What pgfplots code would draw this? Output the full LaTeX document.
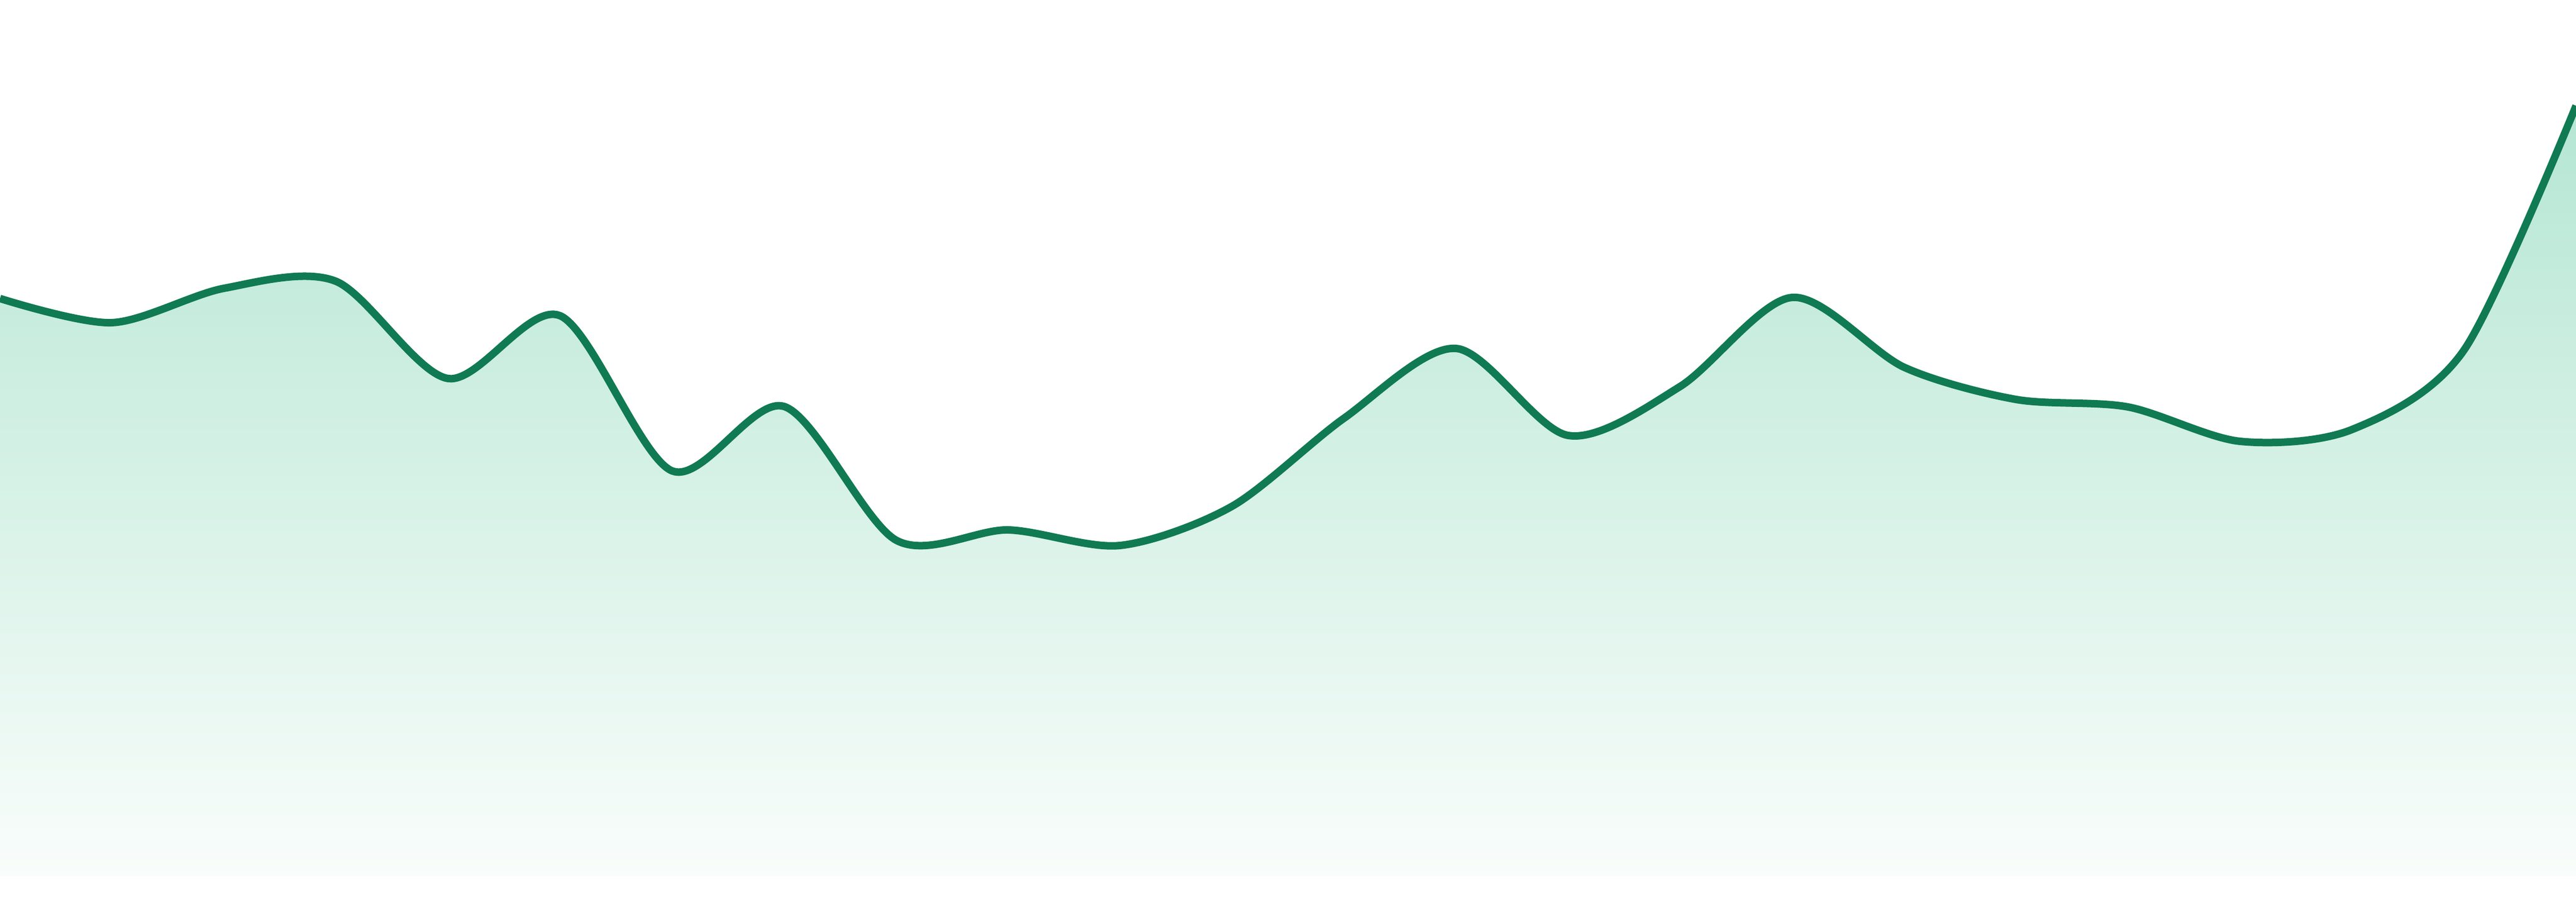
\documentclass[border=0pt]{standalone}
\usepackage{pgfplots}
\pgfplotsset{compat=1.18}

\definecolor{lineGreen}{RGB}{16,122,82}
\definecolor{fillTop}{RGB}{181,230,211}
\definecolor{fillBottom}{RGB}{249,253,251}

\begin{document}
\begin{tikzpicture}
  \begin{axis}[
    scale only axis,
    width=480pt,
    height=168pt,
    xmin=0, xmax=23,
    ymin=-4.8, ymax=163.2,
    axis line style={draw=none},
    ticks=none,
    clip=true,
  ]
    % area under the curve, fading downwards
    \addplot[smooth, draw=none, top color=fillTop, bottom color=fillBottom]
      coordinates {
        (0,107.6) (1,103.1) (2,109.5) (3,110.8) (4,92.7) (5,104.4)
        (6,75.5) (7,87.5) (8,62.6) (9,64.5) (10,61.6) (11,68.9)
        (12,85.3) (13,98.3) (14,82.1) (15,91.2) (16,107.8) (17,94.8)
        (18,88.8) (19,87.4) (20,81.0) (21,83.2) (22,98.0) (23,143.5)
      } \closedcycle;

    \addplot[smooth, color=lineGreen, line width=1.4pt]
      coordinates {
        (0,107.6) (1,103.1) (2,109.5) (3,110.8) (4,92.7) (5,104.4)
        (6,75.5) (7,87.5) (8,62.6) (9,64.5) (10,61.6) (11,68.9)
        (12,85.3) (13,98.3) (14,82.1) (15,91.2) (16,107.8) (17,94.8)
        (18,88.8) (19,87.4) (20,81.0) (21,83.2) (22,98.0) (23,143.5)
      };
  \end{axis}
  % page = the axis box
  \pgfresetboundingbox
  \path (current axis.south west) rectangle (current axis.north east);
\end{tikzpicture}
\end{document}
